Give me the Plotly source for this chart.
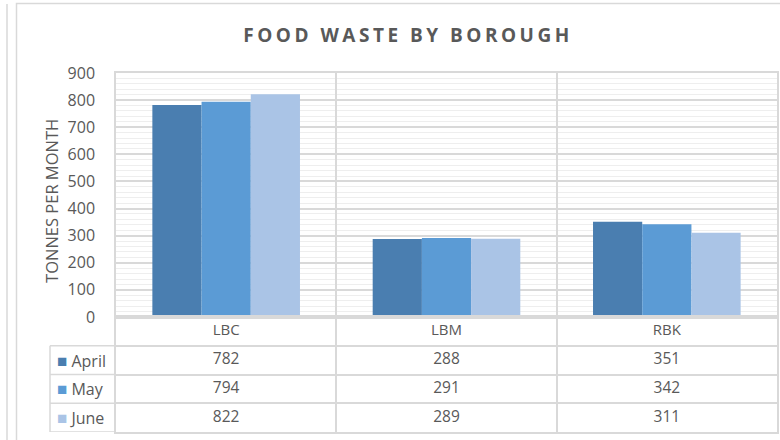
import plotly.graph_objects as go

categories = ["LBC", "LBM", "RBK"]
months = ["April", "May", "June"]
april = [782, 288, 351]
may = [794, 291, 342]
june = [822, 289, 311]
series_values = [april, may, june]
colors = ["#4a7eb0", "#5b9bd5", "#aac4e6"]
y_ticks = [0, 100, 200, 300, 400, 500, 600, 700, 800, 900]

GRID = "#d9d9d9"
TXT = "#595959"
FONT = "Open Sans"

W, H = 780, 440
ML, MR, MT, MB = 116, 3, 73, 8
PW = W - ML - MR
PH = H - MT - MB
split = (432 - 317) / PH  # table height fraction


def px_x(p):
    return (p - ML) / PW


def px_y(p):
    return (H - MB - p) / PH


fig = go.Figure()

for name, vals, col in zip(months, series_values, colors):
    fig.add_trace(go.Bar(x=categories, y=vals, name=name, marker=dict(color=col, line=dict(width=0)),
                         xaxis="x", yaxis="y", showlegend=False, hoverinfo="x+y+name"))

# table: header row with category labels
fig.add_trace(go.Scatter(x=categories, y=["hdr"] * len(categories), text=categories, mode="text",
                         textfont=dict(family=FONT, size=15, color=TXT), xaxis="x2", yaxis="y2",
                         showlegend=False, hoverinfo="skip"))
for name, vals in zip(months, series_values):
    fig.add_trace(go.Scatter(x=categories, y=[name] * len(categories), text=[str(v) for v in vals],
                             mode="text", textfont=dict(family=FONT, size=15.5, color=TXT),
                             xaxis="x2", yaxis="y2", showlegend=False, hoverinfo="skip"))

shapes = []
# left column of the data table
lx = px_x(50)
for b in [2.5, 1.5, 0.5, -0.5]:
    shapes.append(dict(type="line", xref="paper", yref="y2", x0=lx, x1=0, y0=b, y1=b,
                       line=dict(color=GRID, width=1.5)))
shapes.append(dict(type="line", xref="paper", yref="y2", x0=lx, x1=lx, y0=-0.5, y1=2.5,
                   line=dict(color=GRID, width=1.5)))
# chart area border and neighbouring panel edge
shapes.append(dict(type="rect", xref="paper", yref="paper", x0=px_x(16.5), x1=px_x(790),
                   y0=px_y(450), y1=px_y(3.5), line=dict(color="#d9d9d9", width=1.5), layer="below"))
shapes.append(dict(type="line", xref="paper", yref="paper", x0=px_x(7), x1=px_x(7),
                   y0=px_y(450), y1=px_y(4), line=dict(color="#d9d9d9", width=1.5), layer="below"))

annotations = []
for name, col in zip(months, colors):
    annotations.append(dict(xref="paper", yref="y2", x=px_x(55), y=name, xanchor="left", yanchor="middle",
                            showarrow=False,
                            text=f'<span style="color:{col};font-size:17px">■</span> {name}',
                            font=dict(family=FONT, size=16, color=TXT)))
annotations.append(dict(xref="paper", yref="y", x=px_x(52), y=428, xanchor="center", yanchor="middle",
                        showarrow=False, textangle=-90, text="TONNES PER MONTH",
                        font=dict(family=FONT, size=16.5, color=TXT)))

fig.update_layout(
    width=W, height=H,
    margin=dict(l=ML, r=MR, t=MT, b=MB),
    paper_bgcolor="white", plot_bgcolor="white",
    barmode="group", bargap=0.33, bargroupgap=0,
    title=dict(text='<span style="letter-spacing:3.5px">FOOD WASTE BY BOROUGH</span>',
               x=408 / W, xanchor="center", xref="container",
               y=1 - 35 / H, yanchor="middle", yref="container",
               font=dict(family=FONT, size=19, color=TXT, weight="bold")),
    xaxis=dict(domain=[0, 1], anchor="y", type="category", categoryorder="array", categoryarray=categories,
               range=[-0.5, 2.5], tickson="boundaries", showgrid=True, gridcolor=GRID, gridwidth=1.5,
               showticklabels=False, ticks="", showline=True, linecolor=GRID, linewidth=1.5, mirror=True,
               automargin=False),
    yaxis=dict(domain=[split, 1], anchor="x", range=[0, 900], tickvals=y_ticks, showgrid=True,
               gridcolor=GRID, gridwidth=1.5, zeroline=False, showline=True, linecolor=GRID, linewidth=1.5,
               mirror=True, ticks="", ticklabelstandoff=16, automargin=False,
               tickfont=dict(family=FONT, size=16, color=TXT),
               minor=dict(dtick=20, showgrid=True, gridcolor="#eeeeee", gridwidth=1)),
    xaxis2=dict(domain=[0, 1], anchor="y2", type="category", categoryorder="array", categoryarray=categories,
                range=[-0.5, 2.5], matches="x", tickson="boundaries", showgrid=True, gridcolor=GRID,
                gridwidth=1.5, showticklabels=False, ticks="", showline=True, linecolor=GRID, linewidth=1.5,
                mirror=True, automargin=False),
    yaxis2=dict(domain=[0, split], anchor="x2", type="category", categoryorder="array",
                categoryarray=["June", "May", "April", "hdr"], range=[-0.5, 3.5], tickson="boundaries",
                showgrid=True, gridcolor=GRID, gridwidth=1.5, showticklabels=False, ticks="",
                showline=True, linecolor=GRID, linewidth=1.5, mirror=True, zeroline=False, automargin=False),
    shapes=shapes,
    annotations=annotations,
)

fig.write_html("out.html", config={"displayModeBar": False},
               post_script="document.body.style.margin='0';")
